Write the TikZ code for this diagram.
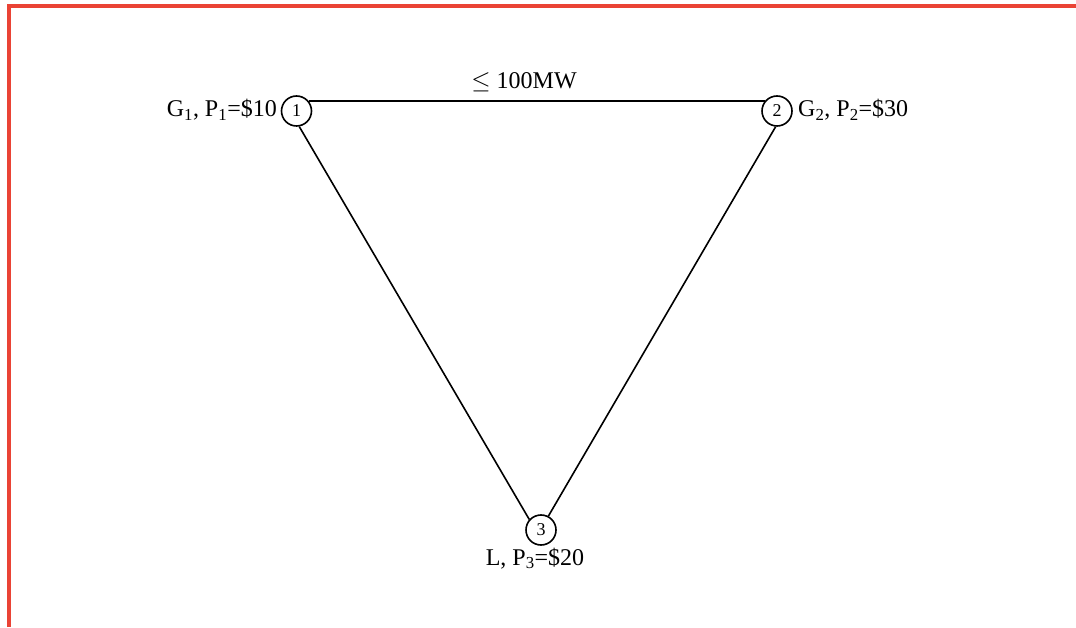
\documentclass[tikz,border=0pt]{standalone}
\usepackage{fontspec}
\setmainfont{Liberation Serif}
\definecolor{frame}{RGB}{234,67,53}
\begin{document}
\begin{tikzpicture}[x=1pt,y=1pt,
  bus/.style={circle,draw,line width=1.6pt,minimum size=30pt,inner sep=0pt,font=\fontsize{18}{18}\selectfont},
  lab/.style={inner sep=0pt,font=\fontsize{24}{24}\selectfont},
  line/.style={line width=1.6pt}]
\useasboundingbox (0,0) rectangle (1076,627);
\draw[frame,line width=4pt] (9,0) -- (9,621) -- (1076,621);
\node[bus] (n1) at (296.5,516) {1};
\node[bus] (n2) at (777,516) {2};
\node[bus] (n3) at (541,97) {3};
\draw[line] (n1.40) -- (n2.140);
\draw[line] (n1.-80) -- (n3.138);
\draw[line] (n2.-95) -- (n3.62);
\node[lab,anchor=base] (cap) at (524,538) {$\leq$ 100MW};
\node[lab,anchor=base east] (l1) at (277,510) {G\textsubscript{1}, P\textsubscript{1}=\$10};
\node[lab,anchor=base west] (l2) at (798,510) {G\textsubscript{2}, P\textsubscript{2}=\$30};
\node[lab,anchor=base] (l3) at (535,62) {L, P\textsubscript{3}=\$20};
\end{tikzpicture}
\end{document}
